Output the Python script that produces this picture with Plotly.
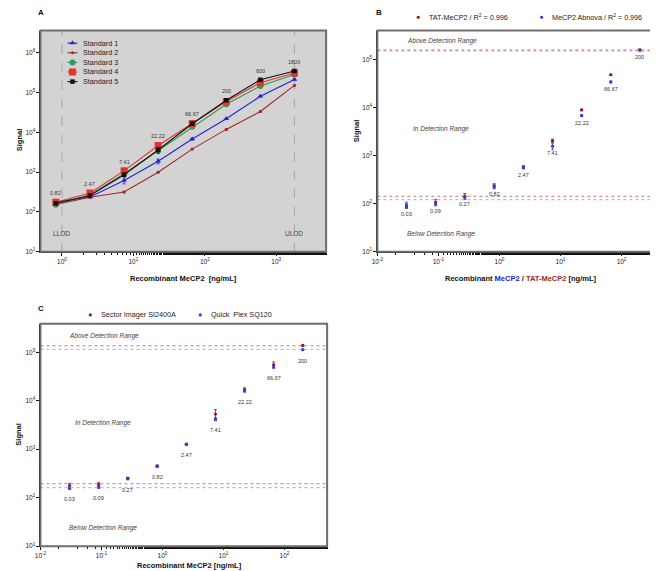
import numpy as np
import plotly.graph_objects as go

# ---------------- data ----------------
# Panel A
conc_A = [0.82, 2.47, 7.41, 22.22, 66.67, 200, 600, 1800]
labels_A = ["0.82", "2.47", "7.41", "22.22", "66.67", "200", "600", "1800"]
std1 = [178, 237, 617, 1880, 6800, 22000, 81000, 215000]
std2 = [155, 235, 316, 1000, 3800, 11900, 33500, 152000]
std3 = [152, 270, 910, 3500, 13800, 51000, 147000, 286000]
std4 = [175, 299, 1080, 4700, 16800, 59600, 178000, 310000]
std5 = [165, 260, 860, 3600, 16500, 64000, 211000, 350000]
std1_err = [10, 12, 110, 250, 400, 1000, 3000, 8000]
std2_err = [8, 10, 15, 40, 150, 500, 1500, 5000]
std3_err = [8, 10, 40, 150, 500, 2000, 5000, 10000]
std4_err = [8, 12, 50, 200, 600, 2000, 6000, 10000]
std5_err = [10, 12, 80, 650, 1000, 3000, 12000, 30000]
lod_A = [1, 1800]
lod_names_A = ["LLOD", "ULOD"]

# Panel B
conc_B = [0.03, 0.09, 0.27, 0.82, 2.47, 7.41, 22.22, 66.67, 200]
labels_B = ["0.03", "0.09", "0.27", "0.82", "2.47", "7.41", "22.22", "66.67", "200"]
tat = [85, 108, 142, 235, 577, 2040, 8900, 48000, 158000]
tat_err = [5, 15, 20, 25, 40, 150, 300, 1500, 5000]
abnova = [95, 100, 135, 225, 560, 1570, 6800, 34000, 155000]
abnova_err = [12, 10, 10, 20, 30, 250, 300, 1500, 5000]
limits_B_tat = [142, 157000]
limits_B_abnova = [121, 150000]

# Panel C
conc_C = [0.03, 0.09, 0.27, 0.82, 2.47, 7.41, 22.22, 66.67, 200]
labels_C = ["0.03", "0.09", "0.27", "0.82", "2.47", "7.41", "22.22", "66.67", "200"]
sector = [178, 185, 252, 450, 1270, 5300, 17000, 55000, 138000]
sector_err = [20, 20, 10, 20, 50, 1300, 1500, 8000, 3000]
quick = [157, 165, 245, 445, 1260, 4170, 16000, 50000, 113000]
quick_err = [10, 10, 10, 20, 40, 300, 1000, 3000, 3000]
limits_C_sector = [194, 136000]
limits_C_quick = [162, 115000]

range_texts = ["Above Detection Range", "In Detection Range", "Below Detection Range"]

# ---------------- style ----------------
FONT = "Liberation Sans"
C_BLUE = "#2323d8"
C_BROWN = "#a0282a"
C_GREEN = "#2e9a5a"
C_RED = "#e8302c"
C_BLACK = "#111111"
C_DRED = "#8b1a1a"
C_PBLUE = "#3a3ae0"

W, H = 658, 571

fig = go.Figure()

def px_x(p):
    return p / W

def px_y(p):
    return 1 - p / H

# axis domains (from pixel boxes)
domA_x = [px_x(26.7), px_x(315)]
domA_y = [px_y(245), px_y(22.7)]
domB_x = [px_x(366.7), px_x(655)]
domB_y = [px_y(245), px_y(22.7)]
domC_x = [px_x(26.7), px_x(316)]
domC_y = [px_y(541), px_y(317.3)]

# ---------- Panel A traces ----------
seriesA = [
    ("Standard 1", std1, std1_err, C_BLUE, "triangle-up", 5),
    ("Standard 2", std2, std2_err, C_BROWN, "circle", 3),
    ("Standard 3", std3, std3_err, C_GREEN, "circle", 6),
    ("Standard 4", std4, std4_err, C_RED, "square", 7),
    ("Standard 5", std5, std5_err, C_BLACK, "square", 4.5),
]
for name, ys, err, col, sym, sz in seriesA:
    fig.add_trace(go.Scatter(
        x=conc_A, y=ys, mode="lines+markers", name=name,
        line=dict(color=col, width=1.1),
        marker=dict(color=col, symbol=sym, size=sz),
        error_y=dict(type="data", array=err, color=col, thickness=0.8, width=1.5),
        xaxis="x", yaxis="y", showlegend=False,
    ))

# ---------- Panel B traces ----------
for ys, err, col in [(tat, tat_err, C_DRED), (abnova, abnova_err, C_PBLUE)]:
    fig.add_trace(go.Scatter(
        x=conc_B, y=ys, mode="markers",
        marker=dict(color=col, symbol="circle", size=3.2),
        error_y=dict(type="data", array=err, color=col, thickness=0.8, width=1.5),
        xaxis="x2", yaxis="y2", showlegend=False,
    ))

# ---------- Panel C traces ----------
for ys, err, col in [(sector, sector_err, C_DRED), (quick, quick_err, C_PBLUE)]:
    fig.add_trace(go.Scatter(
        x=conc_C, y=ys, mode="markers",
        marker=dict(color=col, symbol="circle", size=3.2),
        error_y=dict(type="data", array=err, color=col, thickness=0.8, width=1.5),
        xaxis="x3", yaxis="y3", showlegend=False,
    ))

# ---------- manual legends (pixel overlay axis) ----------
legA_y = [35.3, 45, 54.7, 64.3, 74]
for (name, ys, err, col, sym, sz), yy in zip(seriesA, legA_y):
    fig.add_trace(go.Scatter(
        x=[54, 64], y=[yy, yy], mode="lines",
        line=dict(color=col, width=1.1),
        xaxis="x4", yaxis="y4", showlegend=False, hoverinfo="skip",
    ))
    fig.add_trace(go.Scatter(
        x=[59], y=[yy], mode="markers",
        marker=dict(color=col, symbol=sym, size=sz),
        xaxis="x4", yaxis="y4", showlegend=False, hoverinfo="skip",
    ))

legend_small = [
    (408, 9.3, C_DRED, "TAT-MeCP2 / R<sup>2</sup> = 0.996", 417),
    (532.5, 9.3, C_PBLUE, "MeCP2 Abnova / R<sup>2</sup> = 0.996", 541),
    (77, 308.5, C_DRED, "Sector Imager SI2400A", 86),
    (188, 308.5, C_PBLUE, "Quick  Plex SQ120", 197),
]
for mx, my, col, txt, tx in legend_small:
    fig.add_trace(go.Scatter(
        x=[mx], y=[my], mode="markers",
        marker=dict(color=col, size=3.2),
        xaxis="x4", yaxis="y4", showlegend=False, hoverinfo="skip",
    ))

annotations = []
shapes = []

for (name, *_), yy in zip(seriesA, legA_y):
    annotations.append(dict(x=px_x(68), y=px_y(yy), xref="paper", yref="paper",
                            text=name, showarrow=False, xanchor="left", yanchor="middle",
                            font=dict(family=FONT, size=7.2, color="#222")))
for mx, my, col, txt, tx in legend_small:
    annotations.append(dict(x=px_x(tx), y=px_y(my), xref="paper", yref="paper",
                            text=txt, showarrow=False, xanchor="left", yanchor="middle",
                            font=dict(family=FONT, size=7.2, color="#222")))

# ---------- Panel A decorations ----------
shapes.append(dict(type="rect", xref="x domain", yref="y domain", x0=0, x1=1, y0=0, y1=1,
                   fillcolor="#d3d3d3", line=dict(width=0), layer="below"))
for xv in lod_A:
    shapes.append(dict(type="line", xref="x", yref="y domain", x0=xv, x1=xv, y0=0, y1=1,
                       line=dict(color="#9a9a9a", width=0.8, dash="dash"), layer="below"))
for xv, nm in zip(lod_A, lod_names_A):
    annotations.append(dict(x=np.log10(xv), y=0.058, xref="x", yref="y domain", text=nm,
                            showarrow=False, font=dict(family=FONT, size=6.5, color="#444")))
maxA = np.max(np.array([std1, std2, std3, std4, std5]), axis=0)
for xv, lab, mv in zip(conc_A, labels_A, maxA):
    annotations.append(dict(x=np.log10(xv), y=np.log10(mv), xref="x", yref="y", text=lab,
                            showarrow=False, yshift=9, font=dict(family=FONT, size=5.5, color="#333")))

# ---------- Panel B decorations ----------
for vals, col, wd in [(limits_B_abnova, "#b4b8f6", 1.3), (limits_B_tat, "#cc5050", 0.8)]:
    for v in vals:
        shapes.append(dict(type="line", xref="x2 domain", yref="y2", x0=0, x1=1, y0=v, y1=v,
                           line=dict(color=col, width=wd, dash="dot")))
minB = np.minimum(np.array(tat), np.array(abnova))
for xv, lab, mv in zip(conc_B, labels_B, minB):
    annotations.append(dict(x=np.log10(xv), y=np.log10(mv), xref="x2", yref="y2", text=lab,
                            showarrow=False, yshift=-7, font=dict(family=FONT, size=5.5, color="#333")))
for txt, xf, yf in zip(range_texts, [0.098, 0.119, 0.098], [0.954, 0.553, 0.081]):
    annotations.append(dict(x=xf, y=yf, xref="x2 domain", yref="y2 domain", text="<i>" + txt + "</i>",
                            showarrow=False, xanchor="left", yanchor="middle",
                            font=dict(family=FONT, size=6.5, color="#444")))

# ---------- Panel C decorations ----------
for vals, col, wd in [(limits_C_quick, "#b4b8f6", 1.3), (limits_C_sector, "#cc5050", 0.8)]:
    for v in vals:
        shapes.append(dict(type="line", xref="x3 domain", yref="y3", x0=0, x1=1, y0=v, y1=v,
                           line=dict(color=col, width=wd, dash="dot")))
minC = np.minimum(np.array(sector), np.array(quick))
for xv, lab, mv in zip(conc_C, labels_C, minC):
    annotations.append(dict(x=np.log10(xv), y=np.log10(mv), xref="x3", yref="y3", text=lab,
                            showarrow=False, yshift=-11, font=dict(family=FONT, size=5.5, color="#333")))
for txt, xf, yf in zip(range_texts, [0.092, 0.113, 0.092], [0.946, 0.553, 0.082]):
    annotations.append(dict(x=xf, y=yf, xref="x3 domain", yref="y3 domain", text="<i>" + txt + "</i>",
                            showarrow=False, xanchor="left", yanchor="middle",
                            font=dict(family=FONT, size=6.5, color="#444")))

# frames
for ax in ["x", "x2", "x3"]:
    yax = ax.replace("x", "y")
    shapes.append(dict(type="rect", xref=ax + " domain", yref=yax + " domain", x0=0, x1=1, y0=0, y1=1,
                       line=dict(color="#6e6e6e", width=2), fillcolor="rgba(0,0,0,0)"))

# axis titles and panel letters
def txt(x, y, s, size=7.5, bold=True, angle=0, color="#111"):
    annotations.append(dict(x=px_x(x), y=px_y(y), xref="paper", yref="paper",
                            text=("<b>%s</b>" % s) if bold else s, showarrow=False,
                            textangle=angle, xanchor="center", yanchor="middle",
                            font=dict(family=FONT, size=size, color=color)))

txt(171, 272, "Recombinant MeCP2  [ng/mL]")
txt(512, 272, "Recombinant <span style='color:#2323d8'>MeCP2</span> / "
              "<span style='color:#a0282a'>TAT-MeCP2</span> [ng/mL]")
txt(177, 560, "Recombinant MeCP2 [ng/mL]")
txt(5, 132, "Signal", angle=-90)
txt(345, 123, "Signal", angle=-90)
txt(5, 428, "Signal", angle=-90)
txt(27, 5, "A", size=8)
txt(368, 5, "B", size=8)
txt(27, 302, "C", size=8)

# ---------- axes ----------
def sup_labels(exps):
    return ["10<sup>%d</sup>" % e for e in exps]

tickfont = dict(family=FONT, size=6.5, color="#222")
common_x = dict(type="log", showgrid=False, zeroline=False, showline=True, linecolor="#111",
                linewidth=1, ticks="outside", ticklen=3, tickcolor="#111", tickfont=tickfont,
                minor=dict(ticks="outside", ticklen=2, tickcolor="#111", showgrid=False))
common_y = dict(type="log", showgrid=False, zeroline=False, showline=True, linecolor="#111",
                linewidth=1, ticks="outside", ticklen=3, tickcolor="#111", tickfont=tickfont)

fig.update_layout(
    width=W, height=H, margin=dict(l=0, r=0, t=0, b=0),
    paper_bgcolor="white", plot_bgcolor="rgba(0,0,0,0)",
    showlegend=False,
    xaxis=dict(common_x, domain=domA_x, range=[np.log10(0.5), np.log10(5000)], anchor="y",
               tickvals=[1, 10, 100, 1000], ticktext=sup_labels([0, 1, 2, 3])),
    yaxis=dict(common_y, domain=domA_y, range=[1, 6.56], anchor="x",
               tickvals=[10, 100, 1e3, 1e4, 1e5, 1e6], ticktext=sup_labels([1, 2, 3, 4, 5, 6])),
    xaxis2=dict(common_x, domain=domB_x, range=[-2, 2.68], anchor="y2",
                tickvals=[0.01, 0.1, 1, 10, 100], ticktext=sup_labels([-2, -1, 0, 1, 2])),
    yaxis2=dict(common_y, domain=domB_y, range=[1, 5.6], anchor="x2",
                tickvals=[10, 100, 1e3, 1e4, 1e5], ticktext=sup_labels([1, 2, 3, 4, 5])),
    xaxis3=dict(common_x, domain=domC_x, range=[-2, 2.7], anchor="y3",
                tickvals=[0.01, 0.1, 1, 10, 100], ticktext=sup_labels([-2, -1, 0, 1, 2])),
    yaxis3=dict(common_y, domain=domC_y, range=[1, 5.59], anchor="x3",
                tickvals=[10, 100, 1e3, 1e4, 1e5], ticktext=sup_labels([1, 2, 3, 4, 5])),
    xaxis4=dict(domain=[0, 1], range=[0, W], visible=False, anchor="y4", fixedrange=True),
    yaxis4=dict(domain=[0, 1], range=[H, 0], visible=False, anchor="x4", fixedrange=True),
    annotations=annotations, shapes=shapes,
)

fig.write_html("out.html")
